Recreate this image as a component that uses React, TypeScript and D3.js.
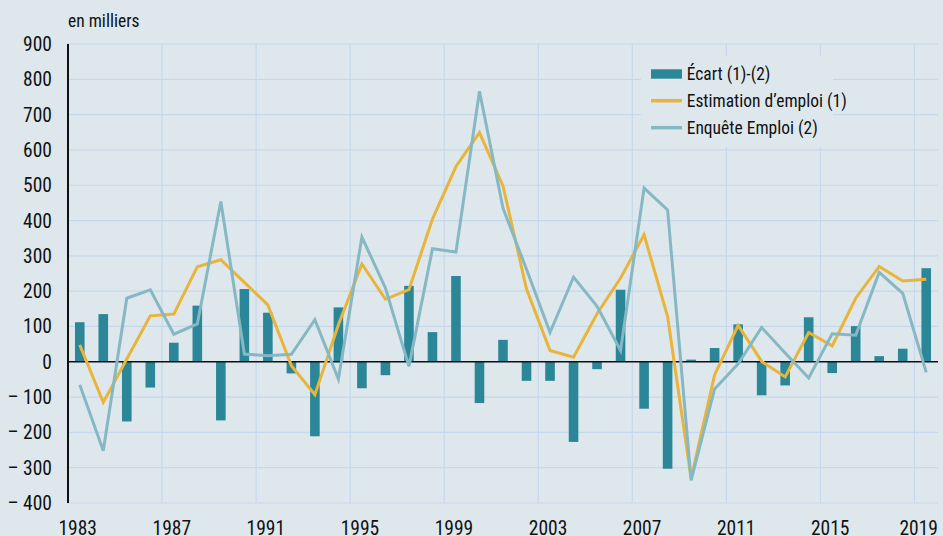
import React from "react";
import * as d3 from "d3";

const years: number[] = d3.range(1983, 2020);
const estimation: number[] = [
  48, -115, 8, 130, 135, 269, 289, 225, 161, -11, -93,
  105, 277, 177, 204, 404, 553, 649, 498, 206, 32, 13, 136,
  237, 360, 128, -330, -37, 103, 1, -43, 83, 45, 180, 270, 229, 234,
];
const enquete: number[] = [
  -65, -252, 180, 204, 78, 107, 454, 22, 17, 21, 119,
  -49, 353, 209, -13, 320, 311, 766, 435, 262, 83, 240, 157,
  32, 492, 430, -336, -77, -6, 97, 25, -46, 79, 75, 253, 194, -30,
];
const ecart: number[] = [
  112, 135, -169, -73, 54, 159, -166, 206, 139, -33, -211,
  154, -75, -38, 215, 84, 243, -117, 62, -54, -54, -227, -21,
  204, -133, -303, 6, 39, 106, -95, -67, 126, -32, 101, 16, 37, 265,
];
const yTicks: number[] = [-400, -300, -200, -100, 0, 100, 200, 300, 400, 500, 600, 700, 800, 900];
const xTickYears: number[] = [1983, 1987, 1991, 1995, 1999, 2003, 2007, 2011, 2015, 2019];
const legendLabels: string[] = ["Écart (1)-(2)", "Estimation d\u2019emploi (1)", "Enquête Emploi (2)"];
const unitLabel = "en milliers";

const W = 943;
const H = 536;
const BG = "#dee8ec";
const GRID = "#c5d8ec";
const BAR = "#2b8797";
const YELLOW = "#e8b43a";
const TEAL = "#86b8c4";
const TEXT = "#111";
const FONT = "'Liberation Sans Narrow', 'Roboto Condensed', 'DejaVu Sans Condensed', 'Liberation Sans', sans-serif";

export default function App() {
  const x = d3.scaleLinear().domain([1983, 2020]).range([68, 938]);
  const y = d3.scaleLinear().domain([-400, 900]).range([503, 44]);
  const cx = (yr: number) => x(yr + 0.5);
  const barW = 9.6;

  const line = d3
    .line<number>()
    .x((_, i) => cx(years[i]))
    .y((d) => y(d));

  const fmt = (v: number) => (v < 0 ? "\u2013 " + Math.abs(v) : String(v));
  const lastYear = xTickYears[xTickYears.length - 1];

  return (
    <svg
      width={W}
      height={H}
      style={{ position: "absolute", left: 0, top: 0, display: "block" }}
      fontFamily={FONT}
    >
      <rect x={0} y={0} width={W} height={H} fill={BG} />
      {yTicks.map((t) => (
        <line key={"h" + t} x1={68} x2={938} y1={y(t)} y2={y(t)} stroke={GRID} strokeWidth={1.2} />
      ))}
      {xTickYears.map((yr) => (
        <line key={"v" + yr} x1={x(yr)} x2={x(yr)} y1={y(900)} y2={y(-400)} stroke={GRID} strokeWidth={1.2} />
      ))}
      <rect x={641} y={56} width={192} height={91} fill={BG} />
      {ecart.map((v, i) => (
        <rect
          key={"b" + i}
          x={cx(years[i]) - barW / 2}
          y={Math.min(y(v), y(0))}
          width={barW}
          height={Math.abs(y(v) - y(0))}
          fill={BAR}
        />
      ))}
      <line x1={68} x2={938} y1={y(0)} y2={y(0)} stroke="#111" strokeWidth={1.6} />
      <path d={line(estimation) || ""} fill="none" stroke={YELLOW} strokeWidth={3} />
      <path d={line(enquete) || ""} fill="none" stroke={TEAL} strokeWidth={3} />
      <line x1={68} x2={68} y1={y(900)} y2={y(-400)} stroke="#111" strokeWidth={2} />
      {yTicks.map((t) => (
        <text key={"yt" + t} x={52} y={y(t)} dy="0.36em" textAnchor="end" fontSize={19.5} fill={TEXT}>
          {fmt(t)}
        </text>
      ))}
      {xTickYears.map((yr) => (
        <text
          key={"xt" + yr}
          x={yr === lastYear ? 938 : cx(yr) - 2}
          y={534.5}
          textAnchor={yr === lastYear ? "end" : "middle"}
          fontSize={19.5}
          fill={TEXT}
        >
          {yr}
        </text>
      ))}
      <text x={68} y={27} fontSize={17.5} fill={TEXT}>
        {unitLabel}
      </text>
      <rect x={651} y={69.3} width={31} height={9.4} fill={BAR} />
      <line x1={651} x2={682} y1={100.7} y2={100.7} stroke={YELLOW} strokeWidth={3.5} />
      <line x1={651} x2={682} y1={127.7} y2={127.7} stroke={TEAL} strokeWidth={3.5} />
      {legendLabels.map((l, i) => (
        <text key={"l" + i} x={686.7} y={80 + i * 27} fontSize={17.5} fill={TEXT}>
          {l}
        </text>
      ))}
    </svg>
  );
}
